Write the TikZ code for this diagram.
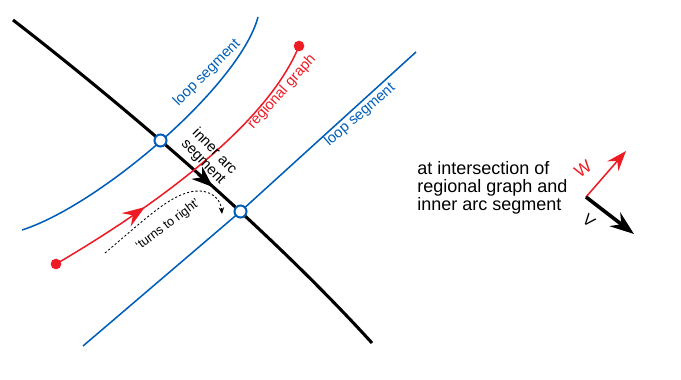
\documentclass[tikz,border=0pt]{standalone}
\usepackage{fontspec}
\setmainfont{Liberation Sans}
\usetikzlibrary{arrows.meta}
\definecolor{lblue}{RGB}{0,94,184}
\definecolor{lred}{RGB}{237,28,36}
\begin{document}
\begin{tikzpicture}[x=0.75pt,y=-0.75pt,
  blk/.style={line width=2.3pt,black},
  loopln/.style={line width=1.15pt,lblue},
  regln/.style={line width=1.15pt,lred},
  xing/.style={circle,draw=lblue,fill=white,line width=1.5pt,minimum size=9pt,inner sep=0pt},
  enddot/.style={circle,fill=lred,minimum size=8pt,inner sep=0pt},
  lbl/.style={font=\fontsize{11}{11.5}\selectfont,inner sep=0pt}]
\useasboundingbox (0,0) rectangle (681,379);
% named points
\coordinate (k0) at (13,20);
\coordinate (k1) at (372,343);
\coordinate (c1) at (160.5,140.5);
\coordinate (c2) at (240.5,211.5);
\coordinate (l0) at (258,17);
\coordinate (l1) at (22,230);
\coordinate (m0) at (83,346);
\coordinate (m1) at (416,52);
\coordinate (r0) at (56,264);
\coordinate (r1) at (299,46);
\coordinate (ds) at (105,253);
\coordinate (de) at (222,214);
\coordinate (o) at (586,197);
\coordinate (ow) at (626,151);
\coordinate (ov) at (634,234);
% inner arc segment
\draw[blk] (k0) .. controls (110,95) and (260,220) .. (k1);
\draw[blk,-{Stealth[length=16pt,width=12pt,inset=5pt]}] (198,173.8) -- (213,187.1);
% loop segments
\draw[loopln] (l0) .. controls (240,85) and (100,205) .. (l1);
\draw[loopln] (m0) -- (c2) -- (m1);
% regional graph
\draw[regln] (r0) .. controls (140,215) and (265,130) .. (r1);
\draw[regln,-{Stealth[length=17pt,width=12pt,inset=6pt]}] (134.3,214.3) -- (145,207);
\node[enddot] (d0) at (r0) {};
\node[enddot] (d1) at (r1) {};
% turns to right
\draw[line width=0.65pt,dash pattern=on 1.6pt off 1.6pt,-{Stealth[length=5pt,width=4pt]}]
  (ds) .. controls (150,215) and (175,190) .. (200,191) .. controls (215,192) and (221,202) .. (de);
% crossings
\node[xing] (x1) at (c1) {};
\node[xing] (x2) at (c2) {};
% labels
\node[lbl,text=lblue,rotate=45] (t1) at (207,73) {loop segment};
\node[lbl,text=lred,rotate=48] (t2) at (282,92) {regional graph};
\node[lbl,text=lblue,rotate=41] (t3) at (360,115) {loop segment};
\node[lbl,rotate=-46,align=left] (t4) at (209,157) {inner arc\\segment};
\node[font=\fontsize{9.5}{10}\selectfont,rotate=37,inner sep=0pt] (t5) at (168,225) {`turns to right'};
\node[font=\fontsize{13.5}{13.3}\selectfont,align=left,anchor=west,inner sep=0pt] (t6) at (417,188)
  {at intersection of\\regional graph and\\inner arc segment};
% vectors
\draw[regln,-{Stealth[length=15pt,width=11pt,inset=5pt]}] (o) -- (ow);
\draw[blk,line width=2.7pt,-{Stealth[length=18pt,width=13pt,inset=6pt]}] (o) -- (ov);
\node[font=\fontsize{13}{13}\selectfont,text=lred,rotate=35,inner sep=0pt] (w) at (583,169) {W};
\node[font=\fontsize{12}{12}\selectfont,rotate=-40,inner sep=0pt] (v) at (589,221) {V};
\end{tikzpicture}
\end{document}
